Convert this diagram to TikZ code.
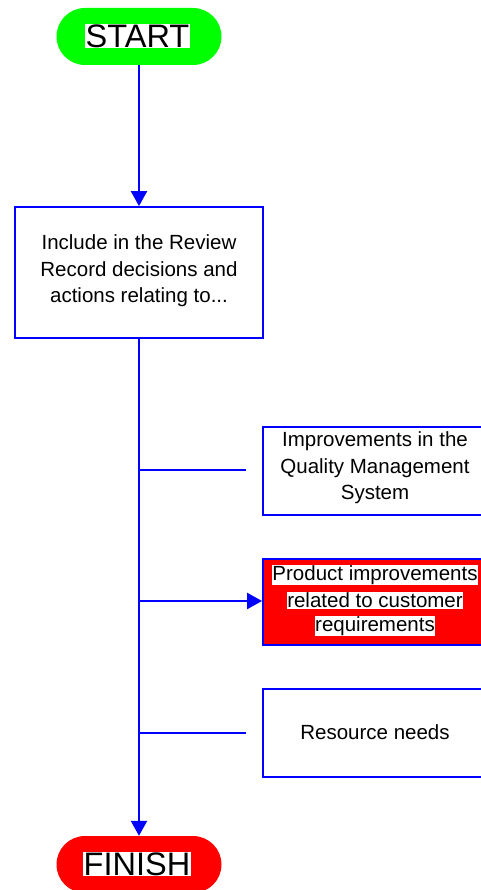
\documentclass[tikz,border=0pt]{standalone}
\usepackage{fontspec}
\setmainfont{Liberation Sans}
\usetikzlibrary{arrows.meta,shapes.misc}
\definecolor{flowblue}{RGB}{0,0,255}
\definecolor{startgreen}{RGB}{0,255,0}
\definecolor{finishred}{RGB}{255,0,0}
\tikzset{
  terminal/.style={rounded rectangle, minimum width=165pt, minimum height=57pt, inner sep=0pt},
  termtext/.style={fill=white, inner sep=0.5pt, font=\fontsize{32.5}{32.5}\selectfont},
  stepbox/.style={draw=flowblue, line width=1.8pt, rectangle, inner sep=0pt},
  boxtext/.style={align=center, font=\fontsize{20.5}{26.5}\selectfont},
  hltext/.style={fill=white, inner sep=0.5pt, font=\fontsize{20.5}{20.5}\selectfont},
  link/.style={draw=flowblue, line width=2.1pt},
  arrowlink/.style={link, -{Triangle[length=15pt, width=16pt]}},
}
\begin{document}
\begin{tikzpicture}[x=1pt, y=-1pt]
\useasboundingbox (0,0) rectangle (481,890);
% terminals
\node[terminal, fill=startgreen] (start) at (139,36.5) {};
\node[termtext] (starttxt) at (137.5,36) {START};
\node[terminal, fill=finishred] (finish) at (139,864.5) {};
\node[termtext] (finishtxt) at (137,864) {FINISH};
% main step
\node[stepbox, minimum width=248pt, minimum height=131pt] (review) at (139,272.5) {};
\node[boxtext] (reviewtxt) at (139,271) {Include in the Review\\Record decisions and\\actions relating to...};
% side boxes
\node[stepbox, minimum width=226pt, minimum height=88pt] (qms) at (376,471) {};
\node[boxtext] (qmstxt) at (375,468) {Improvements in the\\Quality Management\\System};
\node[stepbox, fill=finishred, minimum width=226pt, minimum height=86pt] (prod) at (376,602) {};
\node[hltext] (prod1) at (375,575) {Product improvements};
\node[hltext] (prod2) at (375,600.5) {related to customer};
\node[hltext] (prod3) at (375,626) {requirements};
\node[stepbox, minimum width=226pt, minimum height=88pt] (res) at (376,733) {};
\node[boxtext] (restxt) at (375,732) {Resource needs};
% branch points on the trunk
\coordinate (b1) at (139,470);
\coordinate (b2) at (139,601);
\coordinate (b3) at (139,733);
\coordinate (e1) at (246,470);
\coordinate (e3) at (246,733);
% connectors
\draw[arrowlink] (review.north |- start.south) -- (review.north);
\draw[arrowlink] (review.south) -- (review.south |- finish.north);
\draw[link] (b1) -- (e1);
\draw[arrowlink] (b2) -- (prod.west |- b2);
\draw[link] (b3) -- (e3);
\end{tikzpicture}
\end{document}
